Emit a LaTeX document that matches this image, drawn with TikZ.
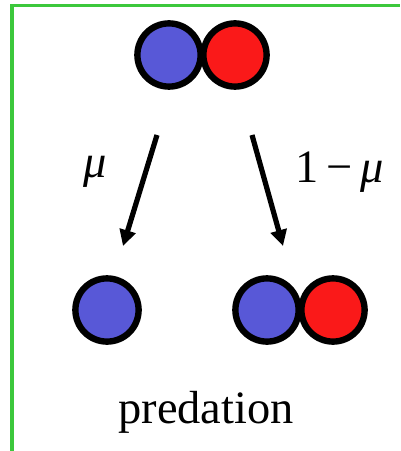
\documentclass[tikz,border=0pt]{standalone}
\usepackage{fontspec}
\setmainfont{Liberation Serif}
\usepackage{tikz}
\usetikzlibrary{arrows.meta, positioning}
\definecolor{mygreen}{RGB}{60,200,60}
\definecolor{myblue}{RGB}{88,88,215}
\definecolor{myred}{RGB}{250,25,25}
\tikzset{
  preyball/.style={circle, draw=black, fill=myblue, minimum size=1.58cm,
    inner sep=0pt, line width=0.16cm},
  predball/.style={circle, draw=black, fill=myred, minimum size=1.58cm,
    inner sep=0pt, line width=0.16cm},
  rate/.style={font=\fontsize{33}{38}\selectfont},
  arrow/.style={-{Triangle[length=0.4cm, width=0.4cm]}, line width=0.13cm, color=black}
}
\begin{document}
\begin{tikzpicture}[x=0.025cm, y=-0.025cm]
  \useasboundingbox (0,0) rectangle (400,451);
  % Frame
  \draw[mygreen, line width=0.075cm] (12,451) -- (12,6) -- (400,6);

  % Pair before predation
  \node[preyball] (preyA) at (169,55) {};
  \node[predball] (predA) at (235,55) {};

  % Outcomes
  \node[preyball] (preyB) at (107,310) {};
  \node[preyball] (preyC) at (267,310) {};
  \node[predball] (predC) at (333,310) {};

  % Arrows
  \coordinate (lstart) at (157,135);
  \coordinate (lend) at (123,246);
  \coordinate (rstart) at (252,135);
  \coordinate (rend) at (283,246);
  \draw[arrow] (lstart) -- (lend);
  \draw[arrow] (rstart) -- (rend);

  % Labels
  \node[rate] (mu) at (95,172) {\itshape μ};
  \node[rate] (onemu) at (340,172) {1\,−\,\itshape μ};
  \node[rate, anchor=base] (label) at (206,423) {predation};
\end{tikzpicture}
\end{document}
